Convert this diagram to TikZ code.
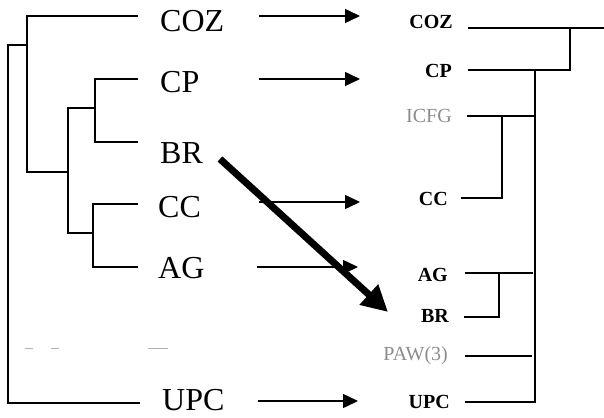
\documentclass[tikz,border=0pt]{standalone}
\usepackage{fontspec}
\setmainfont{Liberation Serif}
\usetikzlibrary{arrows.meta}
\begin{document}
\begin{tikzpicture}[x=1pt,y=-1pt,
  tree/.style={line width=1.5pt,line cap=rect},
  biglab/.style={font=\fontsize{32}{32}\selectfont,anchor=base west,inner sep=0pt},
  smalllab/.style={font=\fontsize{20}{20}\selectfont\bfseries,anchor=base east,inner sep=0pt},
  fadelab/.style={font=\fontsize{20}{20}\selectfont,text=black!45,anchor=base east,inner sep=0pt},
  thinarrow/.style={line width=1.5pt,-{Triangle[length=15pt,width=14pt]}},
  bigarrow/.style={line width=7pt,-{Triangle[length=26pt,width=26pt]}},
  faint/.style={line width=1pt,black!30}]
\useasboundingbox (0,0) rectangle (604,417);

% ---- left tree labels
\node[biglab] (lCOZ) at (160,32) {COZ};
\node[biglab] (lCP) at (160,93) {CP};
\node[biglab] (lBR) at (160,163) {BR};
\node[biglab] (lCC) at (158,217) {CC};
\node[biglab] (lAG) at (158,278) {AG};
\node[biglab] (lUPC) at (162,410) {UPC};

% ---- left tree
\draw[tree] (137,16) -- (27,16) -- (27,172);
\draw[tree] (8,45) -- (27,45);
\draw[tree] (8,45) -- (8,403) -- (139,403);
\draw[tree] (27,172) -- (68,172);
\draw[tree] (68,108) -- (68,233);
\draw[tree] (68,108) -- (95,108);
\draw[tree] (137,79) -- (95,79) -- (95,142) -- (137,142);
\draw[tree] (68,233) -- (93,233);
\draw[tree] (137,204) -- (93,204) -- (93,267) -- (137,267);

% faint marks
\draw[faint] (25,348) -- (33,348);
\draw[faint] (51,348) -- (59,348);
\draw[faint] (148,348) -- (168,348);

% ---- right tree labels
\node[smalllab] (rCOZ) at (453,29) {COZ};
\node[smalllab] (rCP) at (452,78) {CP};
\node[fadelab] (rICFG) at (452,122) {ICFG};
\node[smalllab] (rCC) at (448,205) {CC};
\node[smalllab] (rAG) at (448,281) {AG};
\node[smalllab] (rBR) at (449,322) {BR};
\node[fadelab] (rPAW) at (448,360) {PAW(3)};
\node[smalllab] (rUPC) at (450,408) {UPC};

% ---- right tree
\draw[tree] (469,28) -- (604,28);
\draw[tree] (570,28) -- (570,70);
\draw[tree] (469,70) -- (570,70);
\draw[tree] (535,70) -- (535,402) -- (466,402);
\draw[tree] (468,116) -- (535,116);
\draw[tree] (502,116) -- (502,198) -- (462,198);
\draw[tree] (466,273) -- (532,273);
\draw[tree] (499,273) -- (499,317) -- (465,317);
\draw[tree] (466,356) -- (531,356);

% ---- arrows
\coordinate (a1s) at (259,16);  \coordinate (a1e) at (360,16);
\coordinate (a2s) at (259,79);  \coordinate (a2e) at (360,79);
\coordinate (a3s) at (259,202); \coordinate (a3e) at (360,202);
\coordinate (a4s) at (257,267); \coordinate (a4e) at (358,267);
\coordinate (a5s) at (258,401); \coordinate (a5e) at (358,401);
\draw[thinarrow] (a1s) -- (a1e);
\draw[thinarrow] (a2s) -- (a2e);
\draw[thinarrow] (a3s) -- (a3e);
\draw[thinarrow] (a4s) -- (a4e);
\draw[thinarrow] (a5s) -- (a5e);
\coordinate (bs) at (220,159);
\coordinate (be) at (388,312);
\draw[bigarrow] (bs) -- (be);
\end{tikzpicture}
\end{document}
